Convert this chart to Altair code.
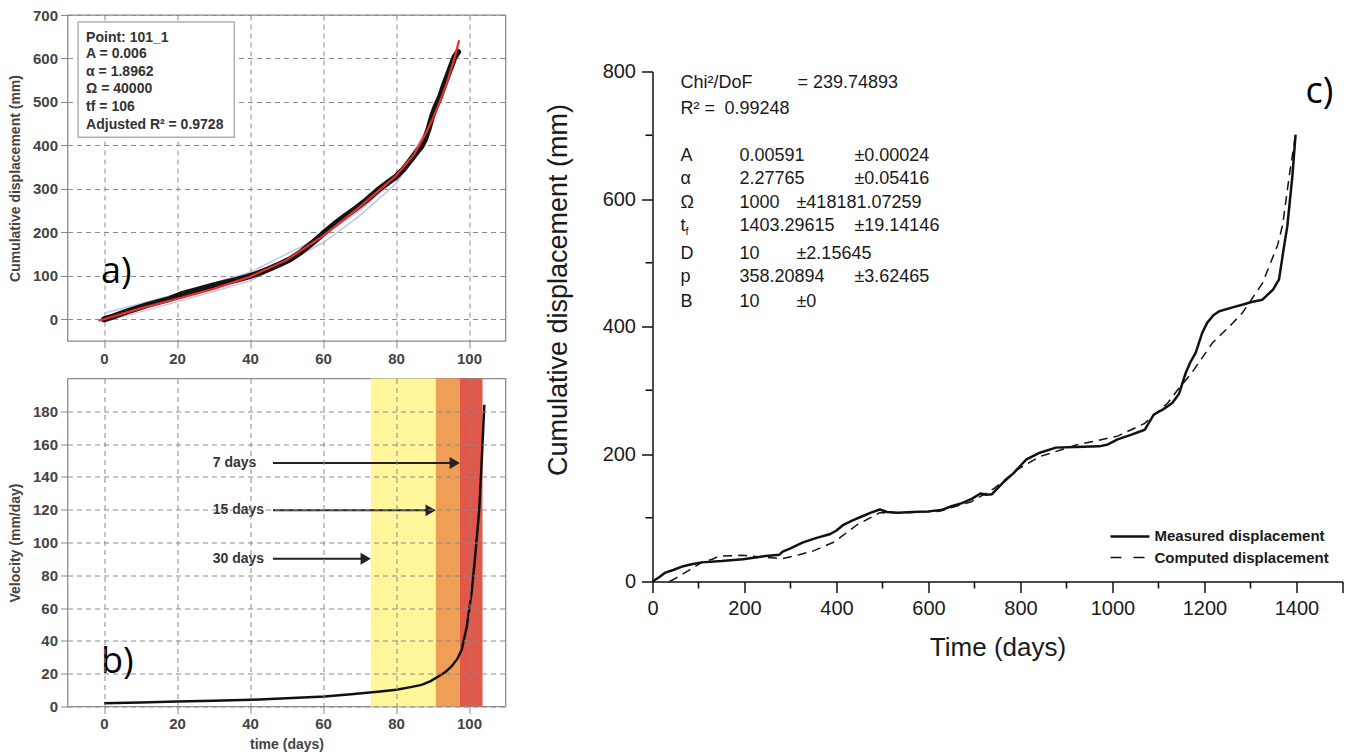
import altair as alt
import pandas as pd

# ---------------- (a) cumulative displacement, point 101_1 ----------------
a_days = [0, 3, 6, 9, 12, 15, 18, 21, 24, 27, 30, 33, 36, 39, 42, 45, 48, 51, 54, 57,
          60, 63, 66, 69, 72, 75, 78, 80, 82, 84, 86, 87, 88, 89, 90, 91, 92, 93, 94, 95, 96, 97]
a_measured = [0, 8, 17, 25, 33, 40, 47, 57, 64, 71, 78, 84, 90, 97, 105, 115, 126, 138, 155, 175,
              197, 218, 237, 255, 275, 297, 316, 328, 345, 366, 388, 398, 415, 440, 470, 492, 510,
              535, 558, 580, 603, 615]
a_fit_days = [-1.5, 0, 10, 20, 30, 40, 50, 60, 70, 80, 85, 88, 90, 92, 94, 96, 97.3]
a_fit = [-3, 0, 25, 47, 70, 98, 136, 192, 258, 330, 380, 425, 460, 500, 545, 600, 642]
a_env_days = [0, 20, 40, 60, 70, 80, 88, 93, 97]
a_env_upper = [14, 58, 108, 192, 250, 322, 430, 535, 625]
a_env_lower = [-6, 40, 88, 176, 238, 312, 412, 520, 605]
a_info = ["Point: 101_1", "A = 0.006", "α = 1.8962", "Ω = 40000", "tf = 106",
          "Adjusted R² = 0.9728"]

# ---------------- (b) velocity ----------------
b_days = [0, 10, 20, 30, 40.3, 50, 60.4, 67.7, 75, 80.1, 84, 87, 89.5, 91.6, 93.5, 95.2,
          96.8, 98, 99.4, 100.7, 101.6, 102.8, 103.5, 104.2]
b_velocity = [2, 2.5, 3, 3.5, 4.1, 5, 6.1, 7.5, 9, 10.2, 11.8, 13.2, 15.5, 18.3, 21, 24.4,
              29, 34.6, 48.8, 69.1, 89.4, 119.9, 150.4, 184]
b_band_start = [73.1, 90.9, 97.5]
b_band_end = [90.9, 97.5, 103.7]
b_band_colors = ["#FFF59A", "#EE9E55", "#E0584A"]
b_arrow_labels = ["7 days", "15 days", "30 days"]
b_arrow_level = [148.5, 119.6, 90.1]
b_arrow_end = [97.5, 90.9, 73.1]

# ---------------- (c) measured vs computed ----------------
c_meas_days = [0, 15, 28, 45, 67, 85, 107, 150, 197, 246,
               276, 283, 300, 326, 355, 385, 400, 415, 435, 455,
               475, 494, 510, 534, 564, 600, 628, 650, 673, 695,
               713, 725, 738, 750, 762, 785, 812, 842, 877, 920,
               971, 990, 1011, 1040, 1070, 1080, 1090, 1110, 1130, 1145,
               1159, 1170, 1181, 1195, 1206, 1220, 1232, 1261, 1286, 1300,
               1326, 1349, 1362, 1373, 1380, 1391, 1398]
c_meas_mm = [0, 7, 14, 18, 24, 27, 30, 32, 35, 40,
             42, 47, 52, 61, 68, 74, 80, 89, 96, 102,
             108, 113, 109, 108, 109, 110, 112, 118, 123, 130,
             138, 136, 137, 146, 155, 170, 191, 202, 210, 211,
             212, 215, 223, 230, 238, 250, 262, 270, 280, 295,
             327, 345, 359, 390, 406, 418, 424, 430, 435, 438,
             442, 458, 474, 526, 557, 636, 701]
c_comp_days = [37, 50, 80, 107, 130, 145, 196, 240, 283, 319,
               350, 395, 445, 494, 554, 623, 693, 743, 792, 842,
               921, 1011, 1070, 1120, 1141, 1170, 1196, 1217, 1261, 1283,
               1326, 1341, 1359, 1370, 1385, 1396]
c_comp_mm = [0, 5, 18, 30, 35, 40, 41, 38, 36, 42,
             48, 62, 89, 108, 108, 110, 125, 146, 175, 196,
             214, 228, 248, 280, 300, 325, 352, 374, 405, 422,
             468, 495, 528, 560, 640, 692]
c_param_names = ["A", "α", "Ω", "t", "D", "p", "B"]
c_param_values = ["0.00591", "2.27765", "1000", "1403.29615", "10", "358.20894", "10"]
c_param_errors = ["±0.00024", "±0.05416", "±418181.07259", "±19.14146", "±2.15645",
                  "±3.62465", "±0"]
c_legend_labels = ["Measured displacement", "Computed displacement"]
c_minor_x = [100, 300, 500, 700, 900, 1100, 1300]
c_minor_y = [100, 300, 500, 700]

FONT = "Liberation Sans"

# ======================= panel a =======================
ab_axis = dict(labelFont=FONT, labelFontWeight="bold", labelFontSize=15, labelColor="#444444",
               titleFont=FONT, titleFontWeight="bold", titleFontSize=14, titleColor="#444444",
               domain=False, tickColor="#888888", tickSize=7, tickWidth=1, labelPadding=3,
               grid=True, gridColor="#8a8a8a", gridDash=[5, 4], gridWidth=1,
               labelFlush=False, labelOverlap=False)

ax_scale = alt.Scale(domain=[-10, 110], nice=False, zero=False)
ay_scale = alt.Scale(domain=[-50, 700], nice=False, zero=False)
ax_axis = alt.Axis(values=[0, 20, 40, 60, 80, 100], title=None, **ab_axis)
ay_axis = alt.Axis(values=list(range(0, 701, 100)), title="Cumulative displacement (mm)",
                   titlePadding=10, **ab_axis)
AX = alt.X("x:Q", scale=ax_scale, axis=ax_axis)
AY = alt.Y("y:Q", scale=ay_scale, axis=ay_axis)

env_df = pd.DataFrame({
    "x": a_env_days + a_env_days,
    "y": a_env_upper + a_env_lower,
    "s": ["u"] * len(a_env_days) + ["l"] * len(a_env_days),
})
a_env = alt.Chart(env_df).mark_line(color="#b3b8e6", strokeWidth=1.5, opacity=0.8).encode(
    x=AX, y=AY, detail="s:N")
a_meas = alt.Chart(pd.DataFrame({"x": a_days, "y": a_measured})).mark_line(
    color="#141414", strokeWidth=6, strokeCap="round", strokeJoin="round").encode(x=AX, y=AY)
a_red = alt.Chart(pd.DataFrame({"x": a_fit_days, "y": a_fit})).mark_line(
    color="#e8302a", strokeWidth=2.2).encode(x=AX, y=AY)
a_box = alt.Chart(pd.DataFrame({"x": [-7.1], "x2": [35.7], "y": [684], "y2": [419]})).mark_rect(
    fill="white", stroke="#b0b0b0", strokeWidth=1.5).encode(x=AX, x2="x2:Q", y=AY, y2="y2:Q")
a_txt = alt.Chart(pd.DataFrame({"x": [-4.9] * 6, "y": [647, 610, 569, 530, 488, 447],
                                "t": a_info})).mark_text(
    align="left", baseline="middle", font=FONT, fontWeight="bold", fontSize=14,
    color="#333333").encode(x=AX, y=AY, text="t:N")
a_tag = alt.Chart(pd.DataFrame({"x": [-0.8], "y": [83], "t": ["a)"]})).mark_text(
    align="left", baseline="alphabetic", font="Open Sans", fontSize=36, color="black").encode(
    x=AX, y=AY, text="t:N")

chart_a = alt.layer(a_env, a_meas, a_red, a_box, a_txt, a_tag).properties(
    width=438, height=326, view=alt.ViewBackground(stroke="#8c8c8c", strokeWidth=1.3))

# ======================= panel b =======================
bx_scale = alt.Scale(domain=[-10, 110], nice=False, zero=False)
by_scale = alt.Scale(domain=[0, 200], nice=False, zero=False)
bx_axis = alt.Axis(values=[0, 20, 40, 60, 80, 100], title="time (days)", titlePadding=6,
                   zindex=1, **ab_axis)
by_axis = alt.Axis(values=list(range(0, 181, 20)), title="Velocity (mm/day)",
                   titlePadding=10, zindex=1, **ab_axis)
BX = alt.X("x:Q", scale=bx_scale, axis=bx_axis)
BY = alt.Y("y:Q", scale=by_scale, axis=by_axis)

b_bands = alt.Chart(pd.DataFrame({"x": b_band_start, "x2": b_band_end, "c": b_band_colors})).mark_rect(
    opacity=1).encode(x=BX, x2="x2:Q", color=alt.Color("c:N", scale=None))
b_curve = alt.Chart(pd.DataFrame({"x": b_days, "y": b_velocity})).mark_line(
    color="#111111", strokeWidth=2.5).encode(x=BX, y=BY)
arrow_df = pd.DataFrame({
    "x": [46.3] * 3,
    "x2": [e - 1.5 for e in b_arrow_end],
    "y": b_arrow_level,
    "t": b_arrow_labels,
})
head_df = pd.DataFrame({"x": [e - 1.4 for e in b_arrow_end], "y": b_arrow_level})
lab_df = pd.DataFrame({"x": [29.8] * 3, "y": b_arrow_level, "t": b_arrow_labels})
b_rules = alt.Chart(arrow_df).mark_rule(color="#222222", strokeWidth=2).encode(
    x=BX, x2="x2:Q", y=BY)
b_heads = alt.Chart(head_df).mark_point(shape="triangle-right", filled=True, size=140,
                                        color="#222222", opacity=1).encode(x=BX, y=BY)
b_labels = alt.Chart(lab_df).mark_text(
    align="left", baseline="middle", font=FONT, fontWeight="bold", fontSize=14,
    color="#333333").encode(x=BX, y=BY, text="t:N")
b_tag = alt.Chart(pd.DataFrame({"x": [-0.8], "y": [20.6], "t": ["b)"]})).mark_text(
    align="left", baseline="alphabetic", font="Open Sans", fontSize=36, color="black").encode(
    x=BX, y=BY, text="t:N")

chart_b = alt.layer(b_bands, b_curve, b_rules, b_heads, b_labels, b_tag).properties(
    width=438, height=328, view=alt.ViewBackground(stroke="#8c8c8c", strokeWidth=1.3))

# ======================= panel c =======================
cx_scale = alt.Scale(domain=[0, 1500], nice=False, zero=False)
cy_scale = alt.Scale(domain=[0, 800], nice=False, zero=False)
c_axis = dict(labelFont=FONT, labelFontSize=20, labelColor="#1a1a1a", format="d",
              titleFont=FONT, titleFontWeight="normal", titleColor="#1a1a1a",
              domainColor="#111111", domainWidth=1.5, tickColor="#111111", tickWidth=1.5,
              tickSize=11, grid=False, labelFlush=False, labelOverlap=False)
cx_axis = alt.Axis(
    values=[0, 200, 400, 600, 800, 1000, 1200, 1400, 1500],
    labelExpr="datum.value <= 1400 ? datum.label : ''",
    title="Time (days)", titleFontSize=26, labelPadding=6, titlePadding=16, **c_axis)
cy_axis = alt.Axis(
    values=[0, 200, 400, 600, 800],
    title="Cumulative displacement (mm)", titleFontSize=27, titleY=218,
    labelPadding=6, titlePadding=30, **c_axis)
CX = alt.X("x:Q", scale=cx_scale, axis=cx_axis)
CY = alt.Y("y:Q", scale=cy_scale, axis=cy_axis)

c_meas = alt.Chart(pd.DataFrame({"x": c_meas_days, "y": c_meas_mm})).mark_line(
    color="#111111", strokeWidth=2.5, strokeJoin="round").encode(x=CX, y=CY)
c_comp = alt.Chart(pd.DataFrame({"x": c_comp_days, "y": c_comp_mm})).mark_line(
    color="#111111", strokeWidth=1.5, strokeDash=[9, 6]).encode(x=CX, y=CY)

c_minor_xt = alt.Chart(pd.DataFrame({"x": c_minor_x})).mark_rule(
    color="#111111", strokeWidth=1.6).encode(x=CX, y=alt.value(510), y2=alt.value(517))
c_minor_yt = alt.Chart(pd.DataFrame({"y": c_minor_y})).mark_rule(
    color="#111111", strokeWidth=1.6).encode(y=CY, x=alt.value(0), x2=alt.value(-7))

rows_y = [666.7, 630.6, 594.5, 556.9, 513, 476.9, 439.2]
err_x = [439, 439, 313, 439, 313, 439, 313]
stat_df = pd.DataFrame({
    "x": [61, 315, 61, 156.5] + [61] * 7 + [189] * 7 + err_x + [71.7],
    "y": [782.7, 782.7, 740.4, 740.4] + rows_y + rows_y + rows_y + [547.5],
    "t": ["Chi²/DoF", "= 239.74893", "R² =", "0.99248"] + c_param_names + c_param_values
         + c_param_errors + ["f"],
    "s": [18] * 25 + [11],
})
c_stats = alt.Chart(stat_df).mark_text(
    align="left", baseline="middle", font=FONT, color="#1a1a1a").encode(
    x=CX, y=CY, text="t:N", size=alt.Size("s:Q", scale=None))

leg_df = pd.DataFrame({"x": [995.7, 995.7], "x2": [1080.4, 1080.4], "y": [70.6, 37.6],
                       "k": ["m", "c"]})
leg_txt_df = pd.DataFrame({"x": [1091.3, 1091.3], "y": [70.6, 37.6], "t": c_legend_labels})
c_leg_solid = alt.Chart(leg_df[leg_df.k == "m"]).mark_rule(color="#111111", strokeWidth=2.5).encode(
    x=CX, x2="x2:Q", y=CY)
c_leg_dash = alt.Chart(leg_df[leg_df.k == "c"]).mark_rule(
    color="#111111", strokeWidth=1.5, strokeDash=[11, 12]).encode(x=CX, x2="x2:Q", y=CY)
c_leg_txt = alt.Chart(leg_txt_df).mark_text(
    align="left", baseline="middle", font=FONT, fontWeight="bold", fontSize=15,
    color="#1a1a1a").encode(x=CX, y=CY, text="t:N")
c_tag = alt.Chart(pd.DataFrame({"x": [1419.6], "y": [751], "t": ["c)"]})).mark_text(
    align="left", baseline="alphabetic", font="Open Sans", fontSize=36, color="black").encode(
    x=CX, y=CY, text="t:N")

chart_c = alt.layer(c_meas, c_comp, c_minor_xt, c_minor_yt, c_stats, c_leg_solid, c_leg_dash,
                    c_leg_txt, c_tag).properties(
    width=690, height=510, view=alt.ViewBackground(strokeOpacity=0))

spacer = alt.Chart(pd.DataFrame({"v": [0]})).mark_point(opacity=0, size=0).properties(
    width=690, height=1, view=alt.ViewBackground(strokeOpacity=0))

left = alt.vconcat(chart_a, chart_b, spacing=10.5)
right = alt.vconcat(spacer, chart_c, spacing=45.5)
chart = alt.hconcat(left, right, spacing=37).properties(
    padding={"left": 7.5, "top": 7, "right": 5, "bottom": 2}, background="white")

chart.save("out.html", embed_options={"renderer": "svg", "actions": False})
